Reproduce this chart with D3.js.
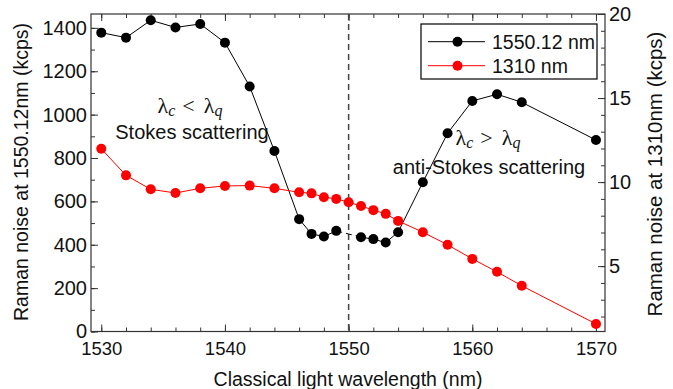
<!DOCTYPE html>
<html>
<head>
<meta charset="utf-8">
<script src="https://cdn.jsdelivr.net/npm/d3@7"></script>
<style>
  body { margin: 0; background: #fff; }
  svg { display: block; font-family: "Liberation Sans", Arial, sans-serif; }
</style>
</head>
<body>
<script>
// data
const blackX = [1530, 1532, 1534, 1536, 1538, 1540, 1542, 1544, 1546, 1547, 1548, 1549,
                1551, 1552, 1553, 1554, 1556, 1558, 1560, 1562, 1564, 1570];
const blackY = [1378, 1355, 1435, 1402, 1418, 1332, 1130, 832, 518, 450, 438, 464,
                435, 426, 410, 458, 688, 914, 1063, 1094, 1057, 883];
const redX = [1530, 1532, 1534, 1536, 1538, 1540, 1542, 1544, 1546, 1547, 1548, 1549, 1550,
              1551, 1552, 1553, 1554, 1556, 1558, 1560, 1562, 1564, 1570];
const redY = [11.98, 10.4, 9.57, 9.35, 9.63, 9.77, 9.79, 9.63, 9.39, 9.33, 9.1, 9.0, 8.8,
              8.58, 8.33, 8.11, 7.69, 7.02, 6.27, 5.43, 4.66, 3.83, 1.56];
const xTicks = [1530, 1540, 1550, 1560, 1570];
const leftTicks = [0, 200, 400, 600, 800, 1000, 1200, 1400];
const rightTicks = [5, 10, 15, 20];
const seriesNames = ["1550.12 nm", "1310 nm"];
const pumpWavelength = 1550;

const width = 673;
const height = 389;
const marginTop = 14;
const marginRight = 68;
const marginBottom = 57.5;
const marginLeft = 91;
const chartWidth = width - marginLeft - marginRight;
const chartHeight = height - marginTop - marginBottom;
const axisColor = "#333";

const svg = d3.select("body").append("svg")
    .attr("width", width)
    .attr("height", height);

const g = svg.append("g")
    .attr("transform", "translate(" + marginLeft + "," + marginTop + ")");

const xScale = d3.scaleLinear().domain([1529.17, 1570.73]).range([0, chartWidth]);
const yLeft = d3.scaleLinear().domain([0, 1464]).range([chartHeight, 0]);
const yRight = d3.scaleLinear().domain([1.11, 20]).range([chartHeight, 0]);

const xMinor = d3.range(1530, 1571, 2);
const leftMinor = d3.range(0, 1464, 100);
const rightMinor = d3.range(2, 21, 1);

// axes, ticks pointing inward
function styleAxis(size) {
    return function (sel) {
        sel.select(".domain").remove();
        sel.selectAll("line").attr("stroke", axisColor);
        sel.selectAll("text").attr("fill", "#111").style("font-size", size + "px")
            .style("font-family", "'Liberation Sans', Arial, sans-serif");
    };
}

g.append("g").attr("transform", "translate(0," + chartHeight + ")")
    .call(d3.axisBottom(xScale).tickValues(xMinor).tickFormat("").tickSize(-4)).call(styleAxis(18));
g.append("g").attr("transform", "translate(0," + chartHeight + ")")
    .call(d3.axisBottom(xScale).tickValues(xTicks).tickFormat(d3.format("d")).tickSize(-7).tickPadding(10))
    .call(styleAxis(18.5));
g.append("g")
    .call(d3.axisTop(xScale).tickValues(xMinor).tickFormat("").tickSize(-4)).call(styleAxis(18));
g.append("g")
    .call(d3.axisTop(xScale).tickValues(xTicks).tickFormat("").tickSize(-7)).call(styleAxis(18));

g.append("g")
    .call(d3.axisLeft(yLeft).tickValues(leftMinor).tickFormat("").tickSize(-4)).call(styleAxis(18));
g.append("g")
    .call(d3.axisLeft(yLeft).tickValues(leftTicks).tickFormat(d3.format("d")).tickSize(-7).tickPadding(4))
    .call(styleAxis(20));

g.append("g").attr("transform", "translate(" + chartWidth + ",0)")
    .call(d3.axisRight(yRight).tickValues(rightMinor).tickFormat("").tickSize(-4)).call(styleAxis(18));
g.append("g").attr("transform", "translate(" + chartWidth + ",0)")
    .call(d3.axisRight(yRight).tickValues(rightTicks).tickFormat(d3.format("d")).tickSize(-7).tickPadding(4))
    .call(styleAxis(20));

// frame
g.append("rect")
    .attr("width", chartWidth)
    .attr("height", chartHeight)
    .attr("fill", "none")
    .attr("stroke", axisColor)
    .attr("stroke-width", 1.2);

// vertical dashed line at pump wavelength
g.append("line")
    .attr("x1", xScale(pumpWavelength)).attr("x2", xScale(pumpWavelength))
    .attr("y1", 0).attr("y2", chartHeight)
    .attr("stroke", "#444")
    .attr("stroke-width", 1.5)
    .attr("stroke-dasharray", "6,4");

// black series (left axis)
const blackData = blackX.map((x, i) => ({ x: x, y: blackY[i] }));
const blackLine = d3.line().x(d => xScale(d.x)).y(d => yLeft(d.y));
const before = blackData.filter(d => d.x < pumpWavelength);
const after = blackData.filter(d => d.x > pumpWavelength);

g.append("path").datum(before).attr("d", blackLine)
    .attr("fill", "none").attr("stroke", "#000").attr("stroke-width", 1);
g.append("path").datum(after).attr("d", blackLine)
    .attr("fill", "none").attr("stroke", "#000").attr("stroke-width", 1);
g.append("path").datum([before[before.length - 1], after[0]]).attr("d", blackLine)
    .attr("fill", "none").attr("stroke", "#000").attr("stroke-width", 1)
    .attr("stroke-dasharray", "6,4");

g.selectAll(".bdot").data(blackData).enter().append("circle")
    .attr("cx", d => xScale(d.x))
    .attr("cy", d => yLeft(d.y))
    .attr("r", 5)
    .attr("fill", "#000");

// red series (right axis)
const redData = redX.map((x, i) => ({ x: x, y: redY[i] }));
g.append("path").datum(redData)
    .attr("d", d3.line().x(d => xScale(d.x)).y(d => yRight(d.y)))
    .attr("fill", "none").attr("stroke", "#ff0000").attr("stroke-width", 1);
g.selectAll(".rdot").data(redData).enter().append("circle")
    .attr("cx", d => xScale(d.x))
    .attr("cy", d => yRight(d.y))
    .attr("r", 5)
    .attr("fill", "#ff0000");

// annotations
function lambdaLabel(x, y, op) {
    const t = svg.append("text")
        .attr("x", x).attr("y", y)
        .attr("text-anchor", "middle")
        .style("font-family", "'Liberation Serif', 'DejaVu Serif', serif")
        .style("font-size", "22px")
        .attr("fill", "#111");
    t.append("tspan").text("λ");
    t.append("tspan").attr("dy", 3).style("font-size", "16px").style("font-style", "italic").text("c");
    t.append("tspan").attr("dy", -3).attr("dx", 7).text(op);
    t.append("tspan").attr("dx", 9).text("λ");
    t.append("tspan").attr("dy", 3).style("font-size", "16px").style("font-style", "italic").text("q");
}
lambdaLabel(190, 113, "<");
lambdaLabel(488, 145, ">");

svg.append("text").attr("x", 192).attr("y", 139).attr("text-anchor", "middle")
    .style("font-size", "20px").attr("fill", "#111").text("Stokes scattering");
svg.append("text").attr("x", 489).attr("y", 174).attr("text-anchor", "middle")
    .style("font-size", "20px").attr("fill", "#111").text("anti-Stokes scattering");

// legend
const legend = svg.append("g").attr("transform", "translate(421,24)");
legend.append("rect")
    .attr("width", 176).attr("height", 55)
    .attr("fill", "#fff").attr("stroke", "#000").attr("stroke-width", 1.2);
const legendColors = ["#000", "#ff0000"];
seriesNames.forEach((name, i) => {
    const yy = 17.7 + i * 24;
    legend.append("line").attr("x1", 7).attr("x2", 64).attr("y1", yy).attr("y2", yy)
        .attr("stroke", legendColors[i]).attr("stroke-width", 1);
    legend.append("circle").attr("cx", 36.5).attr("cy", yy).attr("r", 5).attr("fill", legendColors[i]);
    legend.append("text").attr("x", 71).attr("y", yy).attr("dy", "0.36em")
        .style("font-size", "19.5px").attr("fill", "#111").text(name);
});

// axis titles
svg.append("text")
    .attr("x", 348).attr("y", 386)
    .attr("text-anchor", "middle")
    .style("font-size", "19.5px").attr("fill", "#111")
    .text("Classical light wavelength (nm)");

svg.append("text")
    .attr("transform", "translate(28,172) rotate(-90)")
    .attr("text-anchor", "middle")
    .style("font-size", "19.5px").attr("fill", "#111")
    .text("Raman noise at 1550.12nm (kcps)");

svg.append("text")
    .attr("transform", "translate(662,174) rotate(-90)")
    .attr("text-anchor", "middle")
    .style("font-size", "20.5px").attr("fill", "#111")
    .text("Raman noise at 1310nm (kcps)");
</script>
</body>
</html>
